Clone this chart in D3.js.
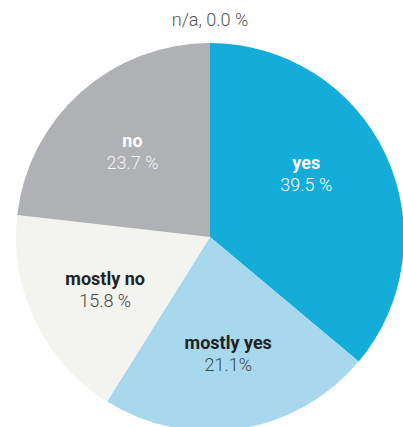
<!DOCTYPE html>
<html><head><meta charset="utf-8">
<script src="https://cdn.jsdelivr.net/npm/d3@7"></script>
<style>html,body{margin:0;padding:0;background:#fff;overflow:hidden}</style>
</head><body>
<svg id="c" width="403" height="427"></svg>
<script>
// categories and values (slice shares; label text as printed)
const categories = ["yes", "mostly yes", "mostly no", "no", "n/a"];
const sliceValues = [36.1, 22.8, 17.9, 23.2, 0];
const percentLabels = ["39.5 %", "21.1%", "15.8 %", "23.7 %", "0.0 %"];
const colors = ["#14acd9", "#a8d8ee", "#f3f3ef", "#b0b1b5", "#888"];
const nameColors = ["#fff", "#222", "#222", "#fff", "#555"];
const pctColors = ["#fff", "#444", "#444", "#f4f4f4", "#555"];

const svg = d3.select("#c");
const cx = 210, cy = 237, r = 194;
const g = svg.append("g").attr("transform", `translate(${cx},${cy})`);
const data = categories.map((c, i) => ({name: c, value: sliceValues[i], pct: percentLabels[i], i}));
const pie = d3.pie().value(d => d.value).sort(null);
const arcs = pie(data);
const arc = d3.arc().innerRadius(0).outerRadius(r);
const labelArc = d3.arc().innerRadius(r * 0.6).outerRadius(r * 0.6);

g.selectAll("path").data(arcs.filter(a => a.data.value > 0)).join("path")
  .attr("d", arc).attr("fill", a => colors[a.data.i]);

const lab = g.selectAll("g.lab").data(arcs.filter(a => a.data.value > 0)).join("g")
  .attr("class", "lab")
  .attr("transform", a => {
    // labels sit at the slice centroid, biased slightly toward the upper half
    const mid = (a.startAngle + a.endAngle) / 2;
    const ang = a.endAngle - a.startAngle > 2 ? mid - 0.16 : mid;
    const rr = r * 0.6;
    return `translate(${rr * Math.sin(ang)},${-rr * Math.cos(ang)})`;
  });
lab.append("text").attr("text-anchor", "middle").attr("y", -3)
  .style("font-family", "Roboto").style("font-weight", 700).style("font-size", "18px")
  .attr("fill", a => nameColors[a.data.i]).text(a => a.data.name);
lab.append("text").attr("text-anchor", "middle").attr("y", 19)
  .style("font-family", "Roboto").style("font-weight", 300).style("font-size", "18px")
  .attr("fill", a => pctColors[a.data.i]).text(a => a.data.pct);

// zero slice label placed outside at its angle
arcs.filter(a => a.data.value === 0).forEach(a => {
  const outer = d3.arc().innerRadius(r + 14).outerRadius(r + 14);
  const [x, y] = outer.centroid(a);
  g.append("text").attr("x", x).attr("y", y - 3).attr("text-anchor", "middle")
    .style("font-family", "Roboto").style("font-weight", 300).style("font-size", "18px")
    .attr("fill", "#555").text(`${a.data.name}, ${a.data.pct}`);
});
</script>
</body></html>
